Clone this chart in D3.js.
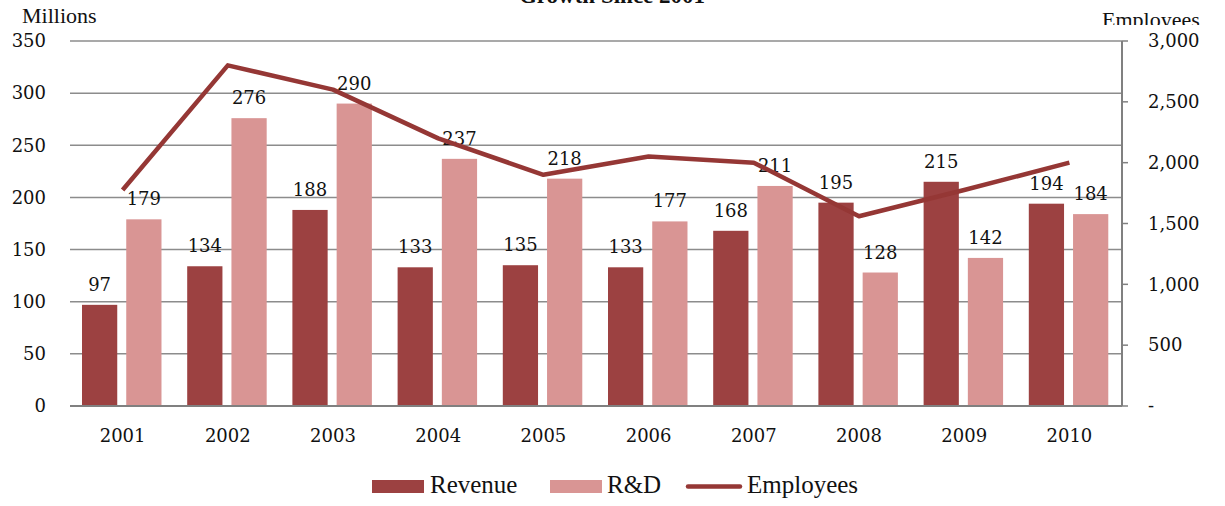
<!DOCTYPE html>
<html><head><meta charset="utf-8">
<script src="https://cdn.jsdelivr.net/npm/d3@7/dist/d3.min.js"></script>
<style>body{margin:0;background:#fff}svg{display:block}</style>
</head><body>
<svg id="c" width="1225" height="506"></svg>
<script>
const categories = ["2001","2002","2003","2004","2005","2006","2007","2008","2009","2010"];
const revenue = [97,134,188,133,135,133,168,195,215,194];
const rnd = [179,276,290,237,218,177,211,128,142,184];
const employees = [1775,2800,2600,2200,1900,2050,2000,1560,1775,2000];
const leftTicks = [0,50,100,150,200,250,300,350];
const rightTicks = [0,500,1000,1500,2000,2500,3000];
const seriesNames = ["Revenue","R&D","Employees"];
const colors = {rev:"#9C4141", rnd:"#D99594", emp:"#953735"};

const svg = d3.select("#c");
const L=70, R=1122, T=41, B=406;
const numFont = "DejaVu Serif", txtFont = "Liberation Serif";

const x = d3.scaleBand().domain(categories).range([L,R]);
const yL = d3.scaleLinear().domain([0,350]).range([B,T]);
const yR = d3.scaleLinear().domain([0,3000]).range([B,T]);

// gridlines
svg.append("g").selectAll("line").data(leftTicks.filter(d=>d>0)).join("line")
  .attr("x1",L).attr("x2",R).attr("y1",d=>yL(d)).attr("y2",d=>yL(d))
  .attr("stroke","#8c8c8c").attr("stroke-width",1.5);

// left axis labels
svg.append("g").selectAll("text").data(leftTicks).join("text")
  .attr("x",46).attr("y",d=>yL(d)).attr("dy","0.35em").attr("text-anchor","end")
  .attr("font-family",numFont).attr("font-size",18).attr("fill","#111").text(d=>d);

// bars
const bw = x.bandwidth()*0.335;
const g = svg.append("g");
g.selectAll("rect.rev").data(categories).join("rect").attr("class","rev")
  .attr("x",d=>x(d)+12).attr("width",bw)
  .attr("y",(d,i)=>yL(revenue[i])).attr("height",(d,i)=>B-yL(revenue[i]))
  .attr("fill",colors.rev);
g.selectAll("rect.rnd").data(categories).join("rect").attr("class","rnd")
  .attr("x",d=>x(d)+12+bw+9).attr("width",bw)
  .attr("y",(d,i)=>yL(rnd[i])).attr("height",(d,i)=>B-yL(rnd[i]))
  .attr("fill",colors.rnd);

// bottom axis line
svg.append("line").attr("x1",L).attr("x2",R).attr("y1",B).attr("y2",B)
  .attr("stroke","#808080").attr("stroke-width",2);

// right axis
svg.append("line").attr("x1",R).attr("x2",R).attr("y1",T).attr("y2",B)
  .attr("stroke","#808080").attr("stroke-width",2);
svg.append("g").selectAll("line").data(rightTicks).join("line")
  .attr("x1",R).attr("x2",R+6).attr("y1",d=>yR(d)).attr("y2",d=>yR(d))
  .attr("stroke","#808080").attr("stroke-width",1.5);
svg.append("g").selectAll("text").data(rightTicks).join("text")
  .attr("x",1148).attr("y",d=>yR(d)).attr("dy","0.35em")
  .attr("font-family",numFont).attr("font-size",18).attr("fill","#111")
  .text(d=>d===0?"-":d3.format(",")(d));

// data labels
g.selectAll("text.lrev").data(categories).join("text")
  .attr("x",d=>x(d)+12+bw/2).attr("y",(d,i)=>yL(revenue[i])-14)
  .attr("text-anchor","middle").attr("font-family",numFont).attr("font-size",18).attr("fill","#111")
  .text((d,i)=>revenue[i]);
g.selectAll("text.lrnd").data(categories).join("text")
  .attr("x",d=>x(d)+12+bw+9+bw/2).attr("y",(d,i)=>yL(rnd[i])-14)
  .attr("text-anchor","middle").attr("font-family",numFont).attr("font-size",18).attr("fill","#111")
  .text((d,i)=>rnd[i]);

// employees line
const line = d3.line().x((d,i)=>x(categories[i])+x.bandwidth()/2).y(d=>yR(d));
svg.append("path").datum(employees).attr("d",line).attr("fill","none")
  .attr("stroke",colors.emp).attr("stroke-width",4.5).attr("stroke-linejoin","round");

// x labels
svg.append("g").selectAll("text").data(categories).join("text")
  .attr("x",d=>x(d)+x.bandwidth()/2).attr("y",442).attr("text-anchor","middle")
  .attr("font-family",numFont).attr("font-size",18).attr("fill","#111").text(d=>d);

// titles
svg.append("text").attr("x",612).attr("y",3).attr("text-anchor","middle")
  .attr("font-family",txtFont).attr("font-weight","bold").attr("font-size",23).attr("fill","#111")
  .text("Growth Since 2001");
svg.append("text").attr("x",22).attr("y",23).attr("font-family",txtFont).attr("font-size",22).attr("fill","#111").text("Millions");
const cp = svg.append("defs").append("clipPath").attr("id","clipEmp");
cp.append("rect").attr("x",1090).attr("y",0).attr("width",135).attr("height",25);
svg.append("text").attr("x",1102).attr("y",27).attr("font-family",txtFont).attr("font-size",22).attr("fill","#111")
  .attr("clip-path","url(#clipEmp)").text("Employees");

// legend
const lg = svg.append("g");
lg.append("rect").attr("x",372).attr("y",480).attr("width",52).attr("height",13).attr("fill",colors.rev);
lg.append("text").attr("x",430).attr("y",493).attr("font-family",txtFont).attr("font-size",25).attr("fill","#111").text(seriesNames[0]);
lg.append("rect").attr("x",550).attr("y",480).attr("width",52).attr("height",13).attr("fill",colors.rnd);
lg.append("text").attr("x",607).attr("y",493).attr("font-family",txtFont).attr("font-size",25).attr("fill","#111").text(seriesNames[1]);
lg.append("line").attr("x1",688).attr("x2",740).attr("y1",486.5).attr("y2",486.5).attr("stroke",colors.emp).attr("stroke-width",4.5).attr("stroke-linecap","round");
lg.append("text").attr("x",747).attr("y",493).attr("font-family",txtFont).attr("font-size",25).attr("fill","#111").text(seriesNames[2]);
</script>
</body></html>
